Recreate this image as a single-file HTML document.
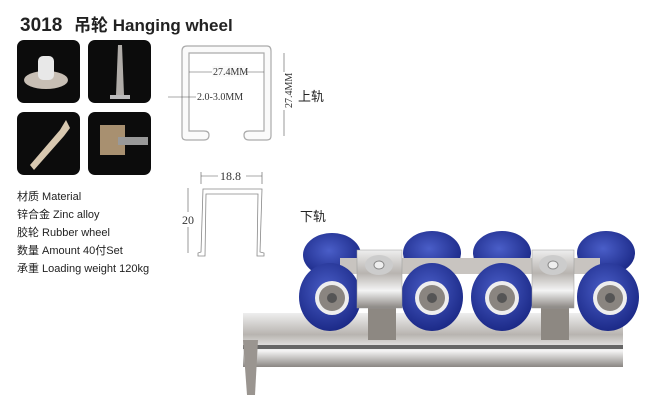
<!DOCTYPE html>
<html><head><meta charset="utf-8"><style>
body{margin:0;width:650px;height:400px;background:#fff;overflow:hidden;font-family:"Liberation Sans","Noto Sans CJK SC",sans-serif;}
</style></head><body>
<svg width="650" height="400" xmlns="http://www.w3.org/2000/svg" font-family="Liberation Sans, Noto Sans CJK SC, sans-serif">
<defs>
<linearGradient id="met" x1="0" y1="0" x2="0" y2="1">
<stop offset="0" stop-color="#eee"/><stop offset="0.4" stop-color="#b8b4b0"/><stop offset="0.7" stop-color="#f4f4f4"/><stop offset="1" stop-color="#8a8682"/></linearGradient>
<radialGradient id="blue" cx="0.45" cy="0.4" r="0.6"><stop offset="0" stop-color="#4a5ec8"/><stop offset="1" stop-color="#1c2a88"/></radialGradient>
</defs>
<text x="20" y="31" font-size="19" font-weight="bold" fill="#222">3018</text>
<text x="74" y="31" font-size="17" font-weight="bold" fill="#222">吊轮 Hanging wheel</text>
<rect x="17" y="40" width="63" height="63" rx="7" fill="#0c0c0c"/>
<rect x="88" y="40" width="63" height="63" rx="7" fill="#0c0c0c"/>
<rect x="17" y="112" width="63" height="63" rx="7" fill="#0c0c0c"/>
<rect x="88" y="112" width="63" height="63" rx="7" fill="#0c0c0c"/>
<ellipse cx="46" cy="80" rx="22" ry="9" fill="#c8bfb5"/><rect x="38" y="56" width="16" height="24" rx="5" fill="#e8e8e8"/>
<path d="M118 45 L122 45 L124 95 L116 95Z" fill="#b0aca8"/><rect x="110" y="95" width="20" height="4" fill="#bbb"/>
<path d="M30 165 L60 130 L66 120 L70 128 L64 136 L34 170Z" fill="#d8c8b0"/>
<rect x="100" y="125" width="25" height="30" fill="#a89070"/><rect x="118" y="137" width="30" height="8" fill="#999"/>
<path d="M182 51 Q182 46 187 46 L267 46 Q271 46 271 51 L271 136 Q271 140 267 140 L249 140 Q244 140 244 135 Q244 131 249 131 L264 131 L264 53 L189 53 L189 131 L204 131 Q209 131 209 135 Q209 140 204 140 L186 140 Q182 140 182 136Z" fill="#fafafa" stroke="#aaa" stroke-width="1.2"/>
<g font-family="Liberation Serif, serif" font-size="10" fill="#333">
<line x1="189" y1="72" x2="264" y2="72" stroke="#555" stroke-width="0.6"/>
<rect x="212" y="66" width="33" height="11" fill="#fafafa"/><text x="213" y="75">27.4MM</text>
<line x1="168" y1="97" x2="196" y2="97" stroke="#555" stroke-width="0.6"/>
<text x="197" y="100">2.0-3.0MM</text>
<line x1="284" y1="53" x2="284" y2="136" stroke="#555" stroke-width="0.6"/>
<rect x="279" y="72" width="11" height="38" fill="#fff"/>
<text transform="translate(292,108) rotate(-90)">27.4MM</text>
<line x1="201" y1="176" x2="262" y2="176" stroke="#555" stroke-width="0.6"/>
<line x1="201" y1="172" x2="201" y2="184" stroke="#555" stroke-width="0.6"/><line x1="262" y1="172" x2="262" y2="184" stroke="#555" stroke-width="0.6"/>
<rect x="218" y="169" width="28" height="13" fill="#fff"/><text x="220" y="180" font-size="12">18.8</text>
<line x1="188" y1="188" x2="188" y2="253" stroke="#555" stroke-width="0.6"/>
<rect x="183" y="212" width="11" height="15" fill="#fff"/><text x="182" y="224" font-size="12">20</text>
</g>
<path d="M203 189 L262 189 L260 252 L264 253 L264 256 L257 256 L258 194 L206 194 L205 256 L198 256 L198 253 L201 252Z" fill="#fff" stroke="#888" stroke-width="0.8"/>
<text x="298" y="101" font-size="13" fill="#222">上轨</text>
<text x="300" y="221" font-size="13" fill="#222">下轨</text>
<g font-size="11" fill="#222">
<text x="17" y="200">材质  Material</text>
<text x="17" y="218">锌合金  Zinc alloy</text>
<text x="17" y="236">胶轮  Rubber wheel</text>
<text x="17" y="254">数量 Amount  40付Set</text>
<text x="17" y="272">承重 Loading weight 120kg</text>
</g>
<!-- rail -->
<rect x="243" y="313" width="380" height="54" fill="url(#met)"/>
<rect x="243" y="345" width="380" height="4" fill="#666"/>
<path d="M243 340 L258 340 L255 395 L247 395Z" fill="#9a9590"/>
<!-- back wheels -->
<g fill="url(#blue)">
<ellipse cx="332" cy="255" rx="29" ry="22"/><ellipse cx="432" cy="253" rx="29" ry="22"/>
<ellipse cx="502" cy="253" rx="29" ry="22"/><ellipse cx="606" cy="253" rx="29" ry="22"/>
</g>
<rect x="340" y="258" width="260" height="16" fill="#c8c4c0"/>
<!-- bolts -->
<rect x="368" y="300" width="28" height="40" fill="#8d8882"/><rect x="541" y="300" width="28" height="40" fill="#8d8882"/>
<!-- front wheels -->
<g>
<ellipse cx="330" cy="297" rx="31" ry="34" fill="url(#blue)"/><circle cx="332" cy="298" r="17" fill="#eee"/><circle cx="332" cy="298" r="13" fill="#8a8580"/><circle cx="332" cy="298" r="5" fill="#555"/>
<ellipse cx="432" cy="297" rx="31" ry="34" fill="url(#blue)"/><circle cx="432" cy="298" r="17" fill="#eee"/><circle cx="432" cy="298" r="13" fill="#8a8580"/><circle cx="432" cy="298" r="5" fill="#555"/>
<ellipse cx="502" cy="297" rx="31" ry="34" fill="url(#blue)"/><circle cx="502" cy="298" r="17" fill="#eee"/><circle cx="502" cy="298" r="13" fill="#8a8580"/><circle cx="502" cy="298" r="5" fill="#555"/>
<ellipse cx="608" cy="297" rx="31" ry="34" fill="url(#blue)"/><circle cx="610" cy="298" r="17" fill="#eee"/><circle cx="610" cy="298" r="13" fill="#8a8580"/><circle cx="610" cy="298" r="5" fill="#555"/>
</g>
<!-- brackets -->
<rect x="357" y="250" width="45" height="58" fill="url(#met)" stroke="#999" stroke-width="0.5"/>
<rect x="532" y="250" width="42" height="58" fill="url(#met)" stroke="#999" stroke-width="0.5"/>
<ellipse cx="379" cy="265" rx="14" ry="10" fill="#ccc"/><ellipse cx="379" cy="265" rx="5" ry="4" fill="#eee" stroke="#888"/>
<ellipse cx="553" cy="265" rx="14" ry="10" fill="#ccc"/><ellipse cx="553" cy="265" rx="5" ry="4" fill="#eee" stroke="#888"/>
</svg>
</body></html>
